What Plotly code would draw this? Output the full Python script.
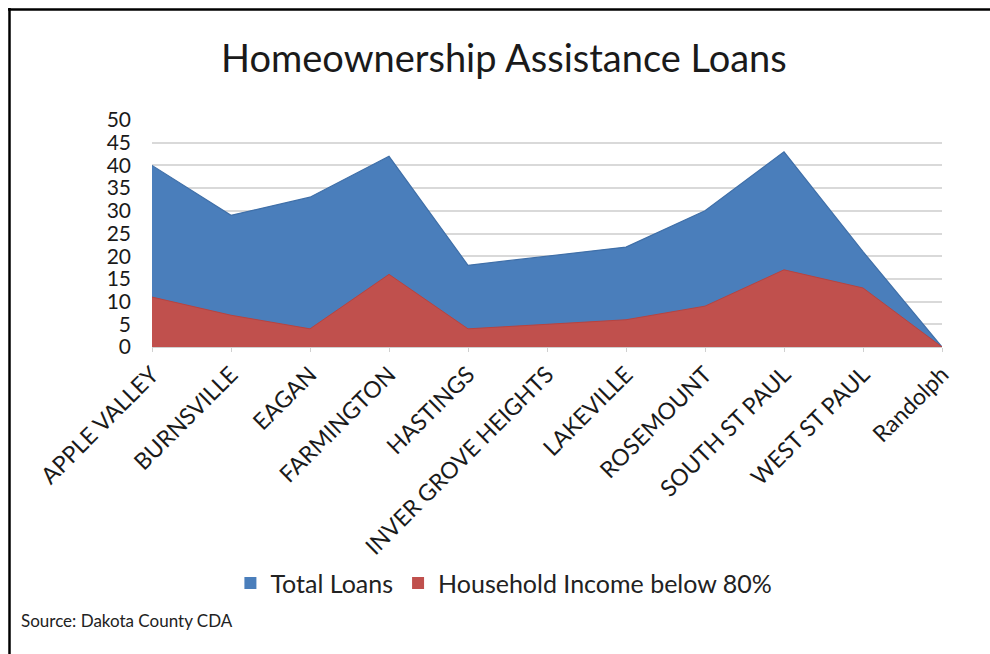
import plotly.graph_objects as go

cities = ["APPLE VALLEY", "BURNSVILLE", "EAGAN", "FARMINGTON", "HASTINGS",
          "INVER GROVE HEIGHTS", "LAKEVILLE", "ROSEMOUNT", "SOUTH ST PAUL",
          "WEST ST PAUL", "Randolph"]
total_loans = [40, 29, 33, 42, 18, 20, 22, 30, 43, 21, 0]
low_income = [11, 7, 4, 16, 4, 5, 6, 9, 17, 13, 0]
y_ticks = [0, 5, 10, 15, 20, 25, 30, 35, 40, 45, 50]

BLUE = "#4a7ebb"
RED = "#c0504d"
FONT = "Lato, 'Open Sans', sans-serif"

W, H = 990, 654
ML, MR, MT, MB = 152, 48, 120, 307
PW, PH = W - ML - MR, H - MT - MB

x_idx = list(range(len(cities)))

fig = go.Figure()
# overlapping (not stacked) areas, both filled down to zero
fig.add_trace(go.Scatter(
    x=x_idx, y=total_loans, name="Total Loans", mode="lines",
    fill="tozeroy", fillcolor=BLUE, line=dict(color="#3f6fa8", width=1.2),
    showlegend=False,
))
fig.add_trace(go.Scatter(
    x=x_idx, y=low_income, name="Household Income below 80%", mode="lines",
    fill="tozeroy", fillcolor=RED, line=dict(color="#b8433f", width=1),
    showlegend=False,
))
# square legend keys
for name, col in [("Total Loans", BLUE), ("Household Income below 80%", RED)]:
    fig.add_trace(go.Scatter(
        x=[None], y=[None], name=name, mode="markers",
        marker=dict(symbol="square", size=12, color=col),
    ))


def px_x(px):
    return (px - ML) / PW


def px_y(py):
    return (H - MB - py) / PH


fig.update_layout(
    width=W, height=H,
    margin=dict(l=ML, r=MR, t=MT, b=MB, autoexpand=False),
    paper_bgcolor="white", plot_bgcolor="white",
    font=dict(family=FONT, color="#222222"),
    title=dict(text="Homeownership Assistance Loans", x=0.509, xanchor="center",
               y=0.911, yanchor="middle", yref="container",
               font=dict(size=38, color="#1a1a1a", family=FONT)),
    showlegend=True,
    legend=dict(orientation="h", xref="container", yref="container",
                x=0.509, xanchor="center", y=0.108, yanchor="middle",
                font=dict(size=25, color="#222222"), itemwidth=30,
                traceorder="normal", bgcolor="rgba(0,0,0,0)"),
)

# black frame along the top and left edge of the page
fig.add_shape(type="line", xref="paper", yref="paper",
              x0=px_x(8), x1=px_x(W + 5), y0=px_y(9.5), y1=px_y(9.5),
              line=dict(color="black", width=2.5), layer="above")
fig.add_shape(type="line", xref="paper", yref="paper",
              x0=px_x(9.5), x1=px_x(9.5), y0=px_y(8), y1=px_y(H + 5),
              line=dict(color="black", width=2.5), layer="above")

fig.update_xaxes(
    tickmode="array", tickvals=x_idx, ticktext=cities, tickangle=-45,
    range=[0, len(cities) - 1], showgrid=False, zeroline=False,
    showline=True, linecolor="#d0d0d0", linewidth=1,
    ticks="outside", ticklen=4, tickcolor="#d0d0d0", automargin=False,
    tickfont=dict(size=23, color="#1a1a1a", family=FONT),
)
fig.update_yaxes(
    range=[0, 50], tickvals=y_ticks, showgrid=True, gridcolor="#d9d9d9",
    gridwidth=1.5, zeroline=False, showline=False, ticks="",
    ticklabelstandoff=20, automargin=False,
    tickfont=dict(size=21, color="#1a1a1a", family=FONT),
)

fig.add_annotation(text="Source: Dakota County CDA", xref="paper", yref="paper",
                   x=px_x(19), y=px_y(620), xanchor="left", yanchor="middle",
                   showarrow=False, font=dict(size=17, color="#222222", family=FONT))

fig.write_html("out.html")
